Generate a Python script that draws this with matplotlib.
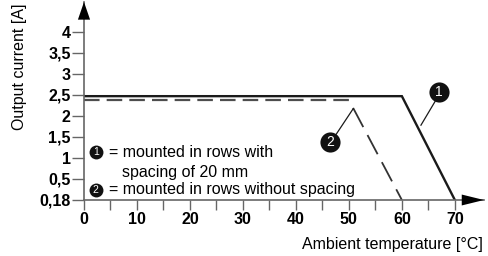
import matplotlib
matplotlib.use("Agg")
import matplotlib.pyplot as plt
from matplotlib.patches import Polygon

plt.rcParams["font.family"] = ["Liberation Sans", "DejaVu Sans"]

# derating curves (ambient temperature in degC -> output current in A)
temp_spaced = [0, 60, 70]
curr_spaced = [2.47, 2.47, 0]
temp_nospace = [0, 50, 60]
curr_nospace = [2.38, 2.38, 0]

x_ticks = [0, 5, 10, 15, 20, 25, 30, 35, 40, 45, 50, 55, 60, 65, 70]
x_labels = ["0", "", "10", "", "20", "", "30", "", "40", "", "50", "", "60", "", "70"]
y_ticks = [0, 0.5, 1, 1.5, 2, 2.5, 3, 3.5, 4]
y_labels = ["0,18", "0,5", "1", "1,5", "2", "2,5", "3", "3,5", "4"]

axis_col = "#666666"
line_col = "#1a1a1a"
fs = 11.5

fig = plt.figure(figsize=(4.89, 2.56), dpi=100)
ax = fig.add_axes([84 / 489, 56 / 256, 400 / 489, 198 / 256])
ax.set_xlim(0, 75.5)
ax.set_ylim(0, 4.71)

for s in ["top", "right"]:
    ax.spines[s].set_visible(False)
for s in ["left", "bottom"]:
    ax.spines[s].set_color(axis_col)
    ax.spines[s].set_linewidth(1.2)

ax.set_xticks(x_ticks)
ax.set_xticklabels(x_labels, fontweight="bold", fontsize=fs)
ax.set_yticks(y_ticks)
ax.set_yticklabels(y_labels, fontweight="bold", fontsize=fs)
ax.tick_params(axis="x", direction="out", length=7.5, width=1, color=axis_col, pad=1.5)
ax.tick_params(axis="y", direction="out", length=8.5, width=1, color=axis_col, pad=1)

# axis arrow heads
ax.add_patch(Polygon([[0, 4.71], [-1.15, 4.29], [1.15, 4.29]], closed=True,
                     facecolor="black", edgecolor="none", clip_on=False, zorder=5))
ax.add_patch(Polygon([[75.5, 0], [71.3, 0.13], [71.3, -0.13]], closed=True,
                     facecolor="black", edgecolor="none", clip_on=False, zorder=5))

ax.plot(temp_spaced, curr_spaced, color=line_col, lw=1.7, solid_joinstyle="miter")
# dashed curve: flat part and slope use different dash lengths in the original
ax.plot(temp_nospace[:2], curr_nospace[:2], color="#4d4d4d", lw=1.6,
        linestyle=(0, (7.0, 3.2)))
ax.plot(temp_nospace[1:], curr_nospace[1:], color="#333333", lw=1.3,
        linestyle=(12.0, (12.0, 5.0)))


def badge(x, y, num, size, fsize):
    ax.plot([x], [y], "o", ms=size, color="#111111", mec="none", zorder=6)
    ax.text(x, y, num, color="white", fontsize=fsize, ha="center", va="center",
            zorder=7)


# callouts
ax.plot([67.0, 63.6], [2.5, 1.78], color=line_col, lw=0.9)
badge(67.0, 2.57, "1", 14.5, 10)
ax.plot([47.0, 50.8], [1.45, 2.17], color=line_col, lw=0.9)
badge(46.4, 1.39, "2", 14.5, 10)

# legend text
badge(2.2, 1.13, "1", 10, 7.5)
ax.text(4.7, 1.12, "= mounted in rows with", fontsize=fs, va="center")
ax.text(7.1, 0.66, "spacing of 20 mm", fontsize=fs, va="center")
badge(2.2, 0.24, "2", 10, 7.5)
ax.text(4.7, 0.24, "= mounted in rows without spacing", fontsize=fs, va="center")

fig.text(20 / 489, 1 - 3 / 256, "Output current [A]", rotation=90, ha="center", va="top",
         fontsize=fs)
fig.text(483 / 489, 12 / 256, "Ambient temperature [°C]", ha="right", va="center",
         fontsize=fs)

fig.savefig("out.png", dpi=100)
